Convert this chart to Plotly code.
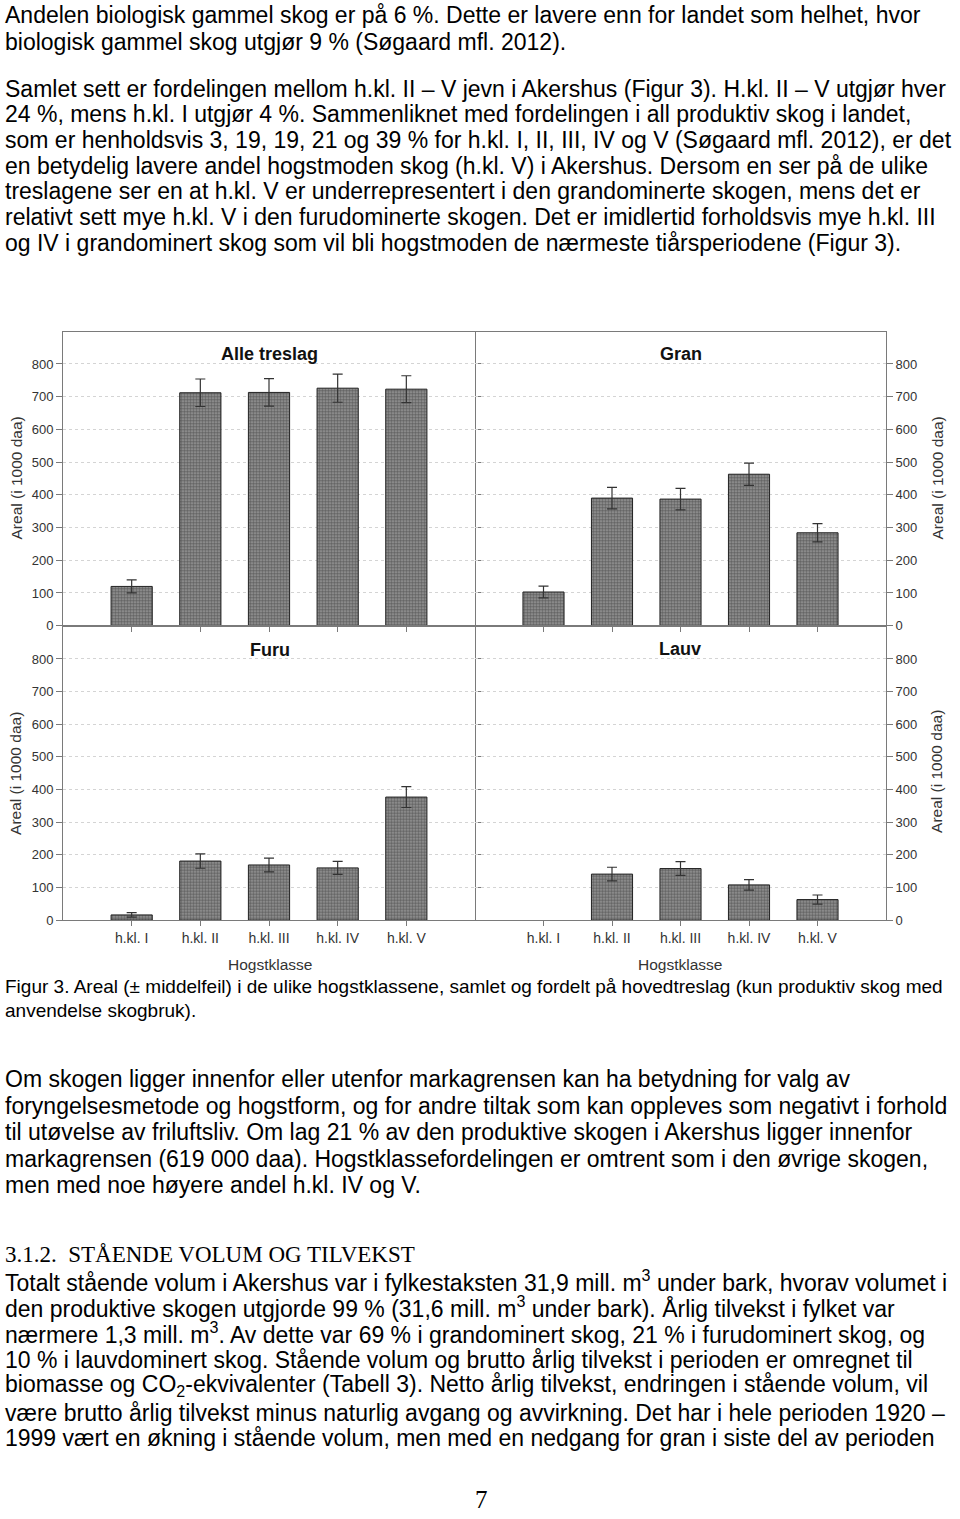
import plotly.graph_objects as go
from plotly.subplots import make_subplots

W, H = 960, 1519

categories = ["h.kl. I", "h.kl. II", "h.kl. III", "h.kl. IV", "h.kl. V"]
alle_vals = [120, 712, 713, 726, 723]
alle_err = [20, 42, 42, 43, 41]
gran_vals = [103, 390, 387, 463, 284]
gran_err = [18, 33, 33, 34, 28]
furu_vals = [16, 181, 169, 160, 377]
furu_err = [7, 22, 21, 20, 32]
lauv_vals = [None, 141, 158, 108, 63]
lauv_err = [None, 21, 21, 16, 14]

panel_titles = ["Alle treslag", "Gran", "Furu", "Lauv"]
y_ticks = [0, 100, 200, 300, 400, 500, 600, 700, 800]
y_title = "Areal (i 1000 daa)"
x_title = "Hogstklasse"

text_top = [
    "Andelen biologisk gammel skog er på 6 %. Dette er lavere enn for landet som helhet, hvor",
    "biologisk gammel skog utgjør 9 % (Søgaard mfl. 2012).",
    "Samlet sett er fordelingen mellom h.kl. II – V jevn i Akershus (Figur 3). H.kl. II – V utgjør hver",
    "24 %, mens h.kl. I utgjør 4 %. Sammenliknet med fordelingen i all produktiv skog i landet,",
    "som er henholdsvis 3, 19, 19, 21 og 39 % for h.kl. I, II, III, IV og V (Søgaard mfl. 2012), er det",
    "en betydelig lavere andel hogstmoden skog (h.kl. V) i Akershus. Dersom en ser på de ulike",
    "treslagene ser en at h.kl. V er underrepresentert i den grandominerte skogen, mens det er",
    "relativt sett mye h.kl. V i den furudominerte skogen. Det er imidlertid forholdsvis mye h.kl. III",
    "og IV i grandominert skog som vil bli hogstmoden de nærmeste tiårsperiodene (Figur 3).",
]
text_top_y = [15, 42, 89, 115, 141, 167, 192, 218, 244]

caption = [
    "Figur 3. Areal (± middelfeil) i de ulike hogstklassene, samlet og fordelt på hovedtreslag (kun produktiv skog med",
    "anvendelse skogbruk).",
]
caption_y = [992, 1016]

text_mid = [
    "Om skogen ligger innenfor eller utenfor markagrensen kan ha betydning for valg av",
    "foryngelsesmetode og hogstform, og for andre tiltak som kan oppleves som negativt i forhold",
    "til utøvelse av friluftsliv. Om lag 21 % av den produktive skogen i Akershus ligger innenfor",
    "markagrensen (619 000 daa). Hogstklassefordelingen er omtrent som i den øvrige skogen,",
    "men med noe høyere andel h.kl. IV og V.",
]
text_mid_y = [1085, 1112, 1138, 1165, 1191]

heading = "3.1.2.\u00a0\u00a0STÅENDE VOLUM OG TILVEKST"
heading_y = 1261

text_bot = [
    "Totalt stående volum i Akershus var i fylkestaksten 31,9 mill. m<sup>3</sup> under bark, hvorav volumet i",
    "den produktive skogen utgjorde 99 % (31,6 mill. m<sup>3</sup> under bark). Årlig tilvekst i fylket var",
    "nærmere 1,3 mill. m<sup>3</sup>. Av dette var 69 % i grandominert skog, 21 % i furudominert skog, og",
    "10 % i lauvdominert skog. Stående volum og brutto årlig tilvekst i perioden er omregnet til",
    "biomasse og CO<sub>2</sub>-ekvivalenter (Tabell 3). Netto årlig tilvekst, endringen i stående volum, vil",
    "være brutto årlig tilvekst minus naturlig avgang og avvirkning. Det har i hele perioden 1920 –",
    "1999 vært en økning i stående volum, men med en nedgang for gran i siste del av perioden",
]
text_bot_y = [1288, 1314, 1340, 1367, 1393, 1420, 1446]
page_number = "7"


def px(x):
    return x / W


def py(y):
    return 1 - y / H


fig = make_subplots(rows=2, cols=2, horizontal_spacing=0, vertical_spacing=0)

series = [(alle_vals, alle_err, 1, 1), (gran_vals, gran_err, 1, 2),
          (furu_vals, furu_err, 2, 1), (lauv_vals, lauv_err, 2, 2)]
for vals, err, r, c in series:
    fig.add_trace(go.Bar(
        x=categories, y=vals, width=0.6,
        marker=dict(color="#666666", line=dict(color="#222222", width=1),
                    pattern=dict(shape=".", size=3, solidity=0.65,
                                 fgcolor="#262626", bgcolor="#9c9c9c")),
        error_y=dict(type="data", array=err, color="#333333", thickness=1.2, width=5),
        showlegend=False,
    ), row=r, col=c)

L, M, R = 63, 475, 886
T1, B1, B2 = 334, 629, 925
axis_color = "#7a7a7a"

x_dom = {1: [px(L), px(M)], 2: [px(M), px(R)]}
y_dom = {1: [py(B1), py(T1)], 2: [py(B2), py(B1)]}
yr = {1: [0, 897], 2: [0, 902]}

for r in (1, 2):
    for c in (1, 2):
        fig.update_xaxes(
            domain=x_dom[c], range=[-1, 5], type="category",
            showline=True, linecolor=axis_color, linewidth=1, mirror=True,
            ticks="outside", ticklen=5, tickcolor=axis_color,
            showgrid=False, showticklabels=(r == 2),
            tickfont=dict(family="Liberation Sans", size=14, color="#333333"),
            row=r, col=c)
        fig.update_yaxes(
            domain=y_dom[r], range=yr[r], tickvals=y_ticks,
            showline=True, linecolor=axis_color, linewidth=1,
            mirror="allticks" if c == 1 else False,
            side="left" if c == 1 else "right",
            ticks="outside", ticklen=6, tickcolor=axis_color,
            showgrid=True, gridcolor="#d4d4d4", griddash="dot", gridwidth=1,
            zeroline=False,
            tickfont=dict(family="Liberation Sans", size=13, color="#333333"),
            row=r, col=c)

ann = []


def add(x, y, text, size, family="Liberation Sans", color="#000", xanchor="left", angle=0):
    ann.append(dict(x=px(x), y=py(y), xref="paper", yref="paper", text=text,
                    showarrow=False, textangle=angle,
                    font=dict(family=family, size=size, color=color),
                    xanchor=xanchor, yanchor="middle", align="left"))


title_pos = [(269, 356), (681, 356), (270, 653), (680, 652)]
for t, (x, y) in zip(panel_titles, title_pos):
    add(x, y, f"<b>{t}</b>", 18, color="#111", xanchor="center")
for x, y in [(16, 481), (16, 778), (937, 481), (937, 776)]:
    add(x, y, y_title, 15.5, color="#333", xanchor="center", angle=-90)
for x in (270, 680):
    add(x, 970, x_title, 15.5, color="#333", xanchor="center")

for t, y in zip(text_top, text_top_y):
    add(3, y, t, 23)
for t, y in zip(caption, caption_y):
    add(3, y, t, 19)
for t, y in zip(text_mid, text_mid_y):
    add(3, y, t, 23)
add(3, heading_y, heading, 23, family="Liberation Serif")
for t, y in zip(text_bot, text_bot_y):
    add(3, y, t, 23)
add(481, 1507, page_number, 25, family="Liberation Serif", xanchor="center")

fig.update_layout(
    width=W, height=H, margin=dict(l=0, r=0, t=0, b=0),
    paper_bgcolor="white", plot_bgcolor="white",
    annotations=ann,
)

fig.write_html("out.html")
